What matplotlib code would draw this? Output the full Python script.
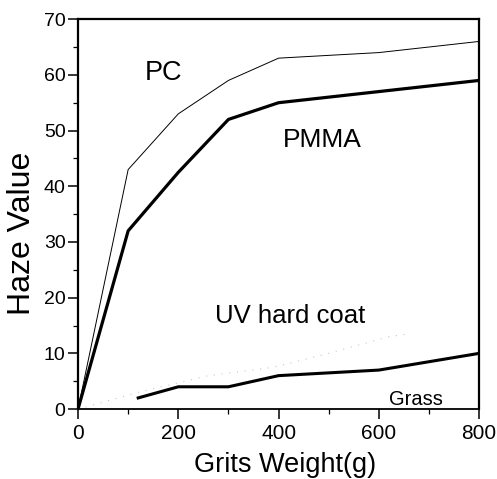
"""
Haze value vs grits weight for PC / PMMA / UV hard coat / glass
"""

import matplotlib
matplotlib.use('Agg')
import matplotlib.pyplot as plt
from matplotlib.ticker import MultipleLocator

# data
grits = [0, 100, 200, 300, 400, 600, 800]
pc = [0, 43, 53, 59, 63, 64, 66]
pmma = [0, 32, 42.5, 52, 55, 57, 59]

uv_x = [120, 200, 300, 400, 600, 800]
uv = [2, 4, 4, 6, 7, 10]

# faint dotted trace (almost lost in the scan)
faint_x = [0, 120, 260, 390, 500, 620, 660]
faint = [0, 3, 6, 7.5, 10, 13, 13.5]

plt.rcParams['font.family'] = ['Liberation Sans', 'DejaVu Sans']

fig = plt.figure(figsize=(4.97, 4.79), dpi=100)
ax = fig.add_axes([0.157, 0.146, 0.807, 0.814])

ax.plot(grits, pc, color='black', lw=0.7)
ax.plot(grits, pmma, color='black', lw=2.3)
ax.plot(uv_x, uv, color='black', lw=2.2)
ax.plot(faint_x, faint, color='#c8c8c8', lw=0.8, ls=(0, (1, 6)))

ax.text(134, 59.1, 'PC', fontsize=19.5)
ax.text(408, 47, 'PMMA', fontsize=19)
ax.text(274, 15.4, 'UV hard coat', fontsize=18.5)
ax.text(620, 0.8, 'Grass', fontsize=14.5)

ax.set_xlim(0, 800)
ax.set_ylim(0, 70)
ax.xaxis.set_major_locator(MultipleLocator(200))
ax.xaxis.set_minor_locator(MultipleLocator(100))
ax.yaxis.set_major_locator(MultipleLocator(10))
ax.yaxis.set_minor_locator(MultipleLocator(5))
ax.tick_params(which='major', direction='out', length=7, width=1.1, pad=2)
ax.tick_params(which='minor', direction='out', length=3.5, width=0.9)
ax.tick_params(axis='x', labelsize=15, pad=4)
ax.tick_params(axis='y', labelsize=14)

for s in ['left', 'top', 'right']:
    ax.spines[s].set_linewidth(1.6)
ax.spines['bottom'].set_linewidth(1.3)

ax.set_xlabel('Grits Weight(g)', fontsize=19.5)
ax.xaxis.label.set_va('baseline')
ax.xaxis.set_label_coords(0.516, -0.162)
ax.set_ylabel('Haze Value', fontsize=23)
ax.yaxis.label.set_va('center')
ax.yaxis.set_label_coords(-0.14, 0.451)

plt.savefig('out.png', dpi=100)
